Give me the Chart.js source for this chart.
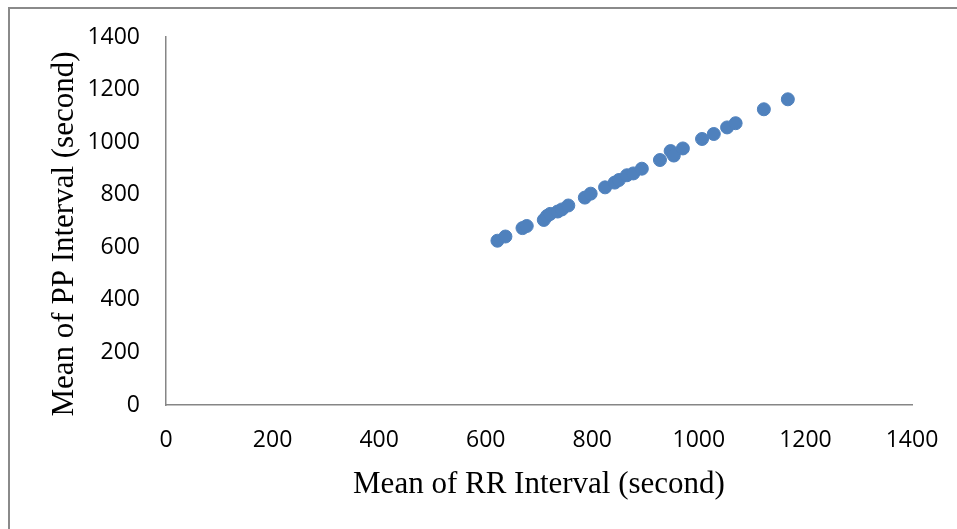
<!DOCTYPE html>
<html>
<head>
<meta charset="utf-8">
<script src="https://cdn.jsdelivr.net/npm/chart.js@4/dist/chart.umd.min.js"></script>
<style>
  html, body { margin: 0; padding: 0; background: #fff; }
  #wrap { position: relative; width: 957px; height: 529px; overflow: hidden; }
  #frame { position: absolute; left: 8px; top: 7px; right: -2px; bottom: -2px; border-top: 2px solid #8a8a8a; border-left: 2px solid #8a8a8a; }
  #plot { position: absolute; left: 0; top: 0; }
</style>
</head>
<body>
<div id="wrap">
  <div id="frame"></div>
  <canvas id="plot" width="957" height="529"></canvas>
</div>
<script>
// mean RR interval vs mean PP interval, one point per recording
const rrMeans = [622, 637, 669, 677, 709, 715, 721, 735, 743, 755, 786, 797, 824, 842, 850, 865, 877, 893, 927, 947, 953, 970, 1006, 1028, 1053, 1069, 1122, 1167];
const ppMeans = [625, 641, 673, 681, 704, 719, 727, 736, 744, 759, 789, 804, 828, 846, 856, 874, 881, 899, 932, 966, 949, 976, 1012, 1031, 1056, 1072, 1125, 1163];
const axisTicks = [0, 200, 400, 600, 800, 1000, 1200, 1400];

const xTitle = "Mean of RR Interval (second)";
const yTitle = "Mean of PP Interval (second)";

const points = rrMeans.map((x, i) => ({x: x, y: ppMeans[i]}));

const tickFont = {family: "'Open Sans'", size: 23};
const titleFont = "31px 'Liberation Serif'";

// axis titles drawn by hand so they sit where the layout wants them
const axisTitles = {
  id: 'axisTitles',
  afterDraw(chart) {
    const ctx = chart.ctx;
    ctx.save();
    ctx.fillStyle = '#000';
    ctx.font = titleFont;
    ctx.textAlign = 'center';
    ctx.textBaseline = 'alphabetic';
    ctx.fillText(xTitle, 539, 493);
    ctx.translate(73, 234);
    ctx.rotate(-Math.PI / 2);
    ctx.fillText(yTitle, 0, 0);
    ctx.restore();
  }
};

const axisLine = {display: true, color: '#868686', width: 1.5};
const plainLabel = v => String(v);

new Chart(document.getElementById('plot'), {
  type: 'scatter',
  data: {
    datasets: [{
      data: points,
      backgroundColor: '#4f81bd',
      borderColor: '#4f81bd',
      pointRadius: 6.5,
      pointHoverRadius: 6.5
    }]
  },
  options: {
    responsive: false,
    animation: false,
    layout: {padding: {left: 0, top: 37, right: 45, bottom: 0}},
    plugins: {legend: {display: false}, tooltip: {enabled: false}},
    scales: {
      x: {
        type: 'linear', min: 0, max: 1400,
        afterBuildTicks: s => { s.ticks = axisTicks.map(v => ({value: v})); },
        afterFit: s => { s.height = 124; s.paddingLeft = 0; s.paddingRight = 0; },
        grid: {display: false, drawTicks: false},
        border: axisLine,
        ticks: {font: tickFont, color: '#000', padding: 22, maxRotation: 0, callback: plainLabel}
      },
      y: {
        type: 'linear', min: 0, max: 1400,
        afterBuildTicks: s => { s.ticks = axisTicks.map(v => ({value: v})); },
        afterFit: s => { s.width = 166; s.paddingTop = 0; s.paddingBottom = 0; },
        grid: {display: false, drawTicks: false},
        border: axisLine,
        ticks: {font: tickFont, color: '#000', padding: 26, callback: plainLabel}
      }
    }
  },
  plugins: [axisTitles]
});
</script>
</body>
</html>
